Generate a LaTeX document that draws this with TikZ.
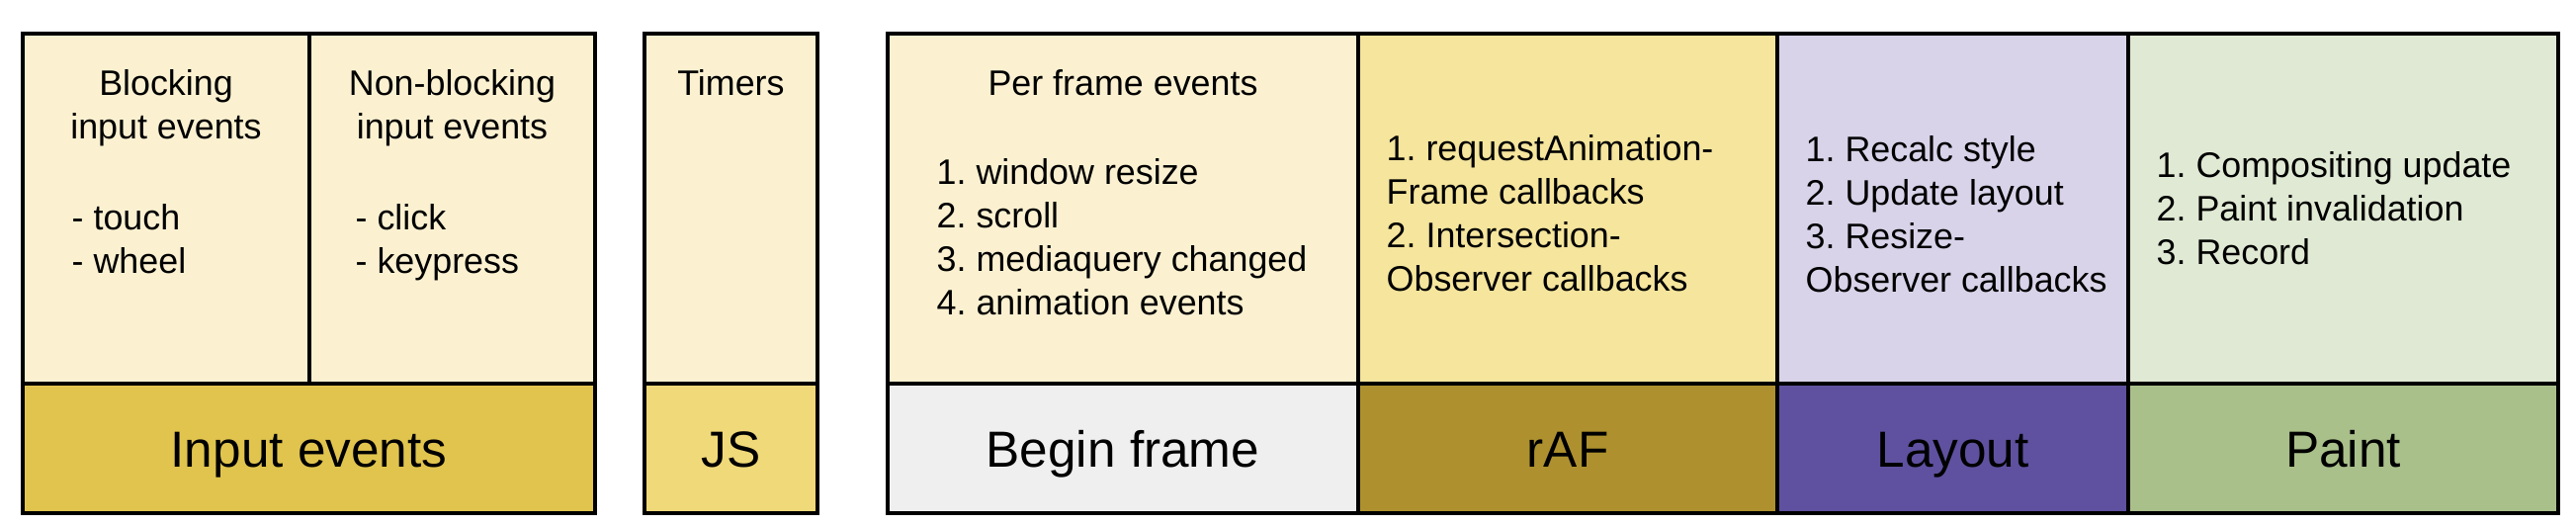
\documentclass[tikz,border=0pt]{standalone}
\usepackage{fontspec}
\setmainfont{Liberation Sans}
\usepackage{tikz}
\usetikzlibrary{positioning}
\frenchspacing
\definecolor{CreamTop}{HTML}{FBF1D1}
\definecolor{InputGold}{HTML}{E1C44E}
\definecolor{JSGold}{HTML}{F0D978}
\definecolor{BeginGray}{HTML}{EFEFEF}
\definecolor{RafTop}{HTML}{F5E59D}
\definecolor{RafBand}{HTML}{AE912E}
\definecolor{LayoutTop}{HTML}{D8D3E9}
\definecolor{LayoutBand}{HTML}{5F51A0}
\definecolor{PaintTop}{HTML}{E0E9D3}
\definecolor{PaintBand}{HTML}{A9C08A}

\begin{document}
\begin{tikzpicture}[
  cell/.style={draw=black, line width=1.4pt, inner sep=0pt, outer sep=0pt, minimum height=3.54cm},
  bandcell/.style={draw=black, line width=1.4pt, inner sep=0pt, outer sep=0pt, minimum height=1.31cm,
    text height=0.37cm, text depth=0pt, font=\fontsize{14.6}{17}\selectfont},
  small/.style={font=\fontsize{10.2}{12.5}\selectfont, inner sep=0pt, align=left}
]
  \useasboundingbox (0,0) rectangle (26.06,5.30);

  % Input events block
  \node[cell, fill=CreamTop, minimum width=2.90cm, anchor=north west] (blk) at (0.23,4.96) {};
  \node[cell, fill=CreamTop, minimum width=2.89cm, right=0pt of blk] (nonblk) {};
  \node[bandcell, fill=InputGold, minimum width=5.79cm, anchor=north west] (inband) at (blk.south west) {Input events};
  \node[small, align=center, anchor=north] (blktxt) at (1.68,4.60) {Blocking\\input events};
  \node[small, align=center, anchor=north] (nonblktxt) at (4.575,4.60) {Non-blocking\\input events};
  \node[small, anchor=north west] (blklist) at (0.72,3.24) {- touch\\- wheel};
  \node[small, anchor=north west] (nonblklist) at (3.59,3.24) {- click\\- keypress};

  % JS block
  \node[cell, fill=CreamTop, minimum width=1.75cm, anchor=north west] (timers) at (6.52,4.96) {};
  \node[bandcell, fill=JSGold, minimum width=1.75cm, below=0pt of timers] (jsband) {JS};
  \node[small, anchor=north] (timerstxt) at (7.395,4.60) {Timers};

  % Frame block: top cells
  \node[cell, fill=CreamTop, minimum width=4.76cm, anchor=north west] (bf) at (8.98,4.96) {};
  \node[cell, fill=RafTop, minimum width=4.24cm, right=0pt of bf] (raf) {};
  \node[cell, fill=LayoutTop, minimum width=3.55cm, right=0pt of raf] (lay) {};
  \node[cell, fill=PaintTop, minimum width=4.35cm, right=0pt of lay] (pnt) {};
  % Frame block: bands
  \node[bandcell, fill=BeginGray, minimum width=4.76cm, below=0pt of bf] (bfband) {Begin frame};
  \node[bandcell, fill=RafBand, minimum width=4.24cm, below=0pt of raf] (rafband) {rAF};
  \node[bandcell, fill=LayoutBand, minimum width=3.55cm, below=0pt of lay] (layband) {Layout};
  \node[bandcell, fill=PaintBand, minimum width=4.35cm, below=0pt of pnt] (pntband) {Paint};

  % Frame block: texts
  \node[small, anchor=north] (bftitle) at (11.36,4.60) {Per frame events};
  \node[small, anchor=north west] (bflist) at (9.47,3.70)
    {1. window resize\\2. scroll\\3. mediaquery changed\\4. animation events};
  \node[small, anchor=north west] (raflist) at (14.02,3.94)
    {1. requestAnimation-\\Frame callbacks\\2. Intersection-\\Observer callbacks};
  \node[small, anchor=north west] (laylist) at (18.26,3.93)
    {1. Recalc style\\2. Update layout\\3. Resize-\\Observer callbacks};
  \node[small, anchor=north west] (pntlist) at (21.81,3.77)
    {1. Compositing update\\2. Paint invalidation\\3. Record};
\end{tikzpicture}
\end{document}
